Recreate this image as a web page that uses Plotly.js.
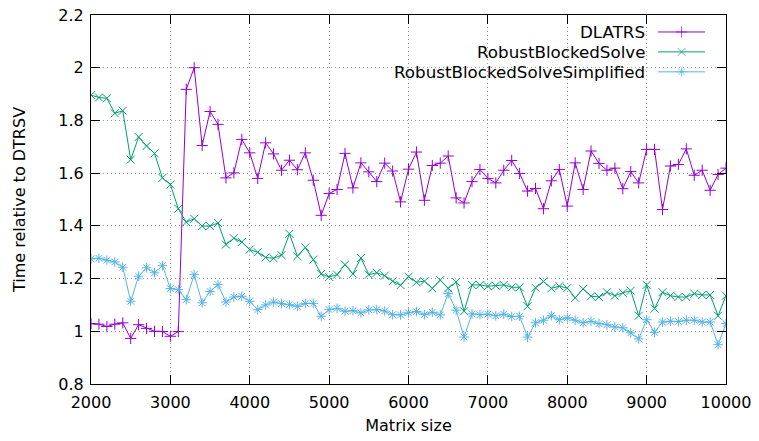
<!DOCTYPE html>
<html>
<head>
<meta charset="utf-8">
<script src="https://cdn.plot.ly/plotly-3.0.1.min.js"></script>
<style>html,body{margin:0;padding:0;background:#fff;}#chart{width:759px;height:441px;}</style>
</head>
<body>
<div id="chart"></div>
<script>
const matrixSizes = [];
for (let n = 2000; n <= 10000; n += 100) matrixSizes.push(n);

const dlatrs = [
1.029,1.027,1.018,1.027,1.032,0.973,1.025,1.011,1.000,0.999,
0.981,0.999,1.918,2.000,1.705,1.834,1.785,1.582,1.601,1.728,
1.677,1.580,1.715,1.673,1.611,1.649,1.613,1.677,1.573,1.440,
1.523,1.538,1.675,1.544,1.639,1.605,1.568,1.638,1.608,1.491,
1.615,1.680,1.497,1.629,1.638,1.665,1.506,1.487,1.568,1.614,
1.580,1.563,1.611,1.648,1.599,1.532,1.542,1.465,1.571,1.614,
1.475,1.639,1.538,1.684,1.637,1.611,1.619,1.541,1.606,1.563,
1.690,1.690,1.462,1.627,1.633,1.692,1.592,1.611,1.535,1.595,
1.619];

const robustBlocked = [
1.896,1.887,1.884,1.827,1.837,1.651,1.737,1.703,1.675,1.582,
1.557,1.465,1.414,1.427,1.399,1.399,1.411,1.329,1.353,1.339,
1.310,1.300,1.280,1.277,1.289,1.370,1.285,1.318,1.272,1.218,
1.206,1.215,1.253,1.218,1.278,1.215,1.222,1.211,1.190,1.175,
1.207,1.186,1.190,1.163,1.194,1.163,1.187,1.076,1.176,1.176,
1.171,1.173,1.176,1.167,1.167,1.095,1.165,1.189,1.163,1.171,
1.164,1.127,1.161,1.133,1.130,1.148,1.135,1.146,1.154,1.059,
1.176,1.086,1.148,1.135,1.130,1.130,1.143,1.138,1.138,1.059,
1.135];

const robustSimplified = [
1.275,1.277,1.270,1.263,1.243,1.114,1.209,1.241,1.222,1.249,
1.162,1.158,1.120,1.215,1.108,1.151,1.177,1.111,1.130,1.133,
1.114,1.082,1.100,1.111,1.105,1.101,1.095,1.106,1.106,1.057,
1.082,1.087,1.076,1.078,1.070,1.081,1.082,1.077,1.063,1.062,
1.070,1.075,1.063,1.072,1.062,1.143,1.080,0.978,1.066,1.063,
1.065,1.059,1.065,1.056,1.057,0.978,1.032,1.042,1.059,1.044,
1.051,1.042,1.032,1.038,1.029,1.025,1.016,1.013,0.994,0.971,
1.044,0.996,1.035,1.038,1.037,1.042,1.042,1.035,1.035,0.949,
1.029];

const seriesNames = ["DLATRS", "RobustBlockedSolve", "RobustBlockedSolveSimplified"];
const seriesColors = ["#9400d3", "#009e73", "#56b4e9"];
const seriesSymbols = ["cross-thin-open", "x-thin-open", "asterisk-open"];
const seriesValues = [dlatrs, robustBlocked, robustSimplified];

const xTicks = [2000,3000,4000,5000,6000,7000,8000,9000,10000];
const yTicks = [0.8,1,1.2,1.4,1.6,1.8,2,2.2];
const yTickText = ["0.8","1","1.2","1.4","1.6","1.8","2","2.2"];

const FONT = "DejaVu Sans, sans-serif";
const FS = 16;
const LEG_FS = 16.7;

const traces = seriesValues.map((vals, i) => ({
  x: matrixSizes, y: vals, type: "scatter", mode: "lines+markers",
  name: seriesNames[i], showlegend: false,
  line: {color: seriesColors[i], width: 1},
  marker: {symbol: seriesSymbols[i], size: 8, color: seriesColors[i], line: {color: seriesColors[i], width: 1}}
}));

// manual gnuplot-style legend (text left, sample right)
const legY = [0.954, 0.900, 0.846];
const annotations = [];
seriesNames.forEach((nm, i) => {
  traces.push({
    x: [0.893, 0.930, 0.967], y: [legY[i], legY[i], legY[i]],
    xaxis: "x2", yaxis: "y2", type: "scatter", mode: "lines+markers",
    showlegend: false, hoverinfo: "skip",
    line: {color: seriesColors[i], width: 1},
    marker: {symbol: seriesSymbols[i], size: [0, 8, 0], color: seriesColors[i], line: {color: seriesColors[i], width: 1}}
  });
  annotations.push({
    xref: "paper", yref: "paper", x: 0.876, y: legY[i], xanchor: "right", yanchor: "middle",
    text: nm, showarrow: false, font: {family: FONT, size: LEG_FS, color: "#000"}
  });
});

const axisCommon = {
  showline: true, linecolor: "#000", linewidth: 1, mirror: "ticks",
  ticks: "inside", ticklen: 9, tickcolor: "#000", tickwidth: 1,
  showgrid: true, gridcolor: "#9a9a9a", griddash: "1px,3px", gridwidth: 1,
  zeroline: false, tickfont: {family: FONT, size: FS, color: "#000"}
};

const layout = {
  width: 759, height: 441,
  margin: {l: 91, r: 33, t: 15, b: 57},
  paper_bgcolor: "#fff", plot_bgcolor: "#fff",
  font: {family: FONT, size: FS, color: "#000"},
  xaxis: Object.assign({}, axisCommon, {
    range: [2000, 10000], tickvals: xTicks, ticktext: xTicks.map(String),
    ticklabelstandoff: 4,
    title: {text: "Matrix size", font: {family: FONT, size: FS}, standoff: 8}
  }),
  yaxis: Object.assign({}, axisCommon, {
    range: [0.8, 2.2], tickvals: yTicks, ticktext: yTickText,
    ticklabelstandoff: 3,
    title: {text: "Time relative to DTRSV", font: {family: FONT, size: FS}, standoff: 28}
  }),
  xaxis2: {overlaying: "x", range: [0, 1], visible: false, fixedrange: true},
  yaxis2: {overlaying: "y", range: [0, 1], visible: false, fixedrange: true},
  shapes: [{
    type: "rect", xref: "paper", yref: "paper", x0: 0.402, x1: 0.99, y0: 0.81, y1: 0.995,
    fillcolor: "#fff", line: {width: 0}, layer: "between"
  }],
  annotations: annotations,
  showlegend: false
};

Plotly.newPlot("chart", traces, layout, {displayModeBar: false, staticPlot: true});
</script>
</body>
</html>
